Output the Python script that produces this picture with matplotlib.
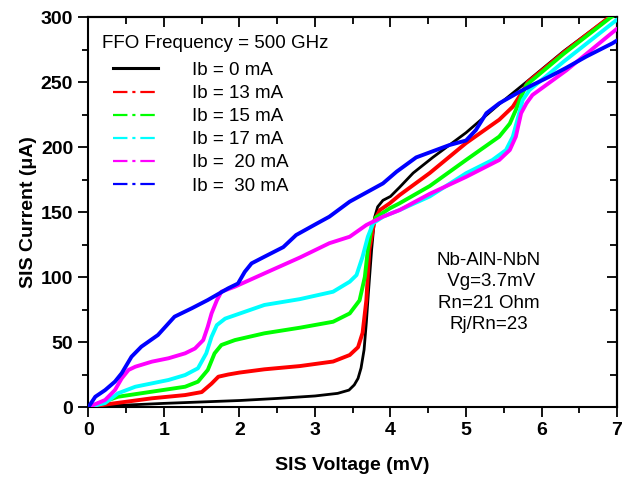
import matplotlib
matplotlib.use("Agg")
import matplotlib.pyplot as plt
from matplotlib.lines import Line2D

plt.rcParams['font.family'] = ['Liberation Sans', 'DejaVu Sans']

# ---- data (SIS voltage in mV, current in uA) ----
v_ib0 = [0, 0.5, 1.0, 1.5, 2.0, 2.5, 3.0, 3.3, 3.45, 3.52, 3.57, 3.61, 3.65, 3.68, 3.71, 3.75, 3.79, 3.83, 3.9, 4.0, 4.12, 4.3, 4.56, 5.0, 5.44, 5.8, 6.3, 6.9, 7.0]
i_ib0 = [0, 1.5, 2.8, 3.9, 5.0, 6.6, 8.5, 10.5, 13, 17, 22, 30, 44, 65, 90, 121, 146, 154, 159, 162, 169, 180, 192, 211, 233, 250, 274, 300, 305]

v_ib13 = [0, 0.3, 0.84, 1.28, 1.5, 1.63, 1.72, 1.85, 2.0, 2.33, 2.8, 3.24, 3.46, 3.57, 3.63, 3.68, 3.72, 3.79, 3.86, 3.99, 4.12, 4.52, 5.0, 5.44, 5.62, 5.73, 5.82, 6.3, 6.9, 7.0]
i_ib13 = [0, 2.5, 6.7, 9.2, 11.5, 18, 23.3, 25, 26.5, 29, 31.5, 35, 40, 46, 57, 82, 121, 144, 151.5, 156.7, 163, 180, 203, 221, 231, 241, 250, 273, 300, 305]

v_ib15 = [0, 0.39, 0.84, 1.28, 1.45, 1.58, 1.67, 1.76, 1.94, 2.33, 2.8, 3.24, 3.46, 3.59, 3.66, 3.70, 3.75, 3.81, 3.99, 4.12, 4.52, 5.0, 5.44, 5.58, 5.66, 5.73, 5.80, 6.3, 6.9, 7.0]
i_ib15 = [0, 7.9, 11.8, 15.6, 19.5, 28.5, 41.3, 47.7, 51.5, 56.7, 61, 65.6, 72, 82, 100, 121, 138.7, 146, 152.8, 156.7, 170, 190, 208, 218, 228.5, 238.7, 247.7, 272, 299, 303]

v_ib17 = [0, 0.22, 0.39, 0.62, 0.84, 1.06, 1.28, 1.45, 1.56, 1.63, 1.70, 1.81, 2.33, 2.8, 3.24, 3.46, 3.55, 3.63, 3.70, 3.77, 3.90, 4.12, 4.52, 5.0, 5.35, 5.53, 5.62, 5.69, 5.75, 5.84, 6.3, 7.0]
i_ib17 = [0, 3, 10.5, 15.6, 18.2, 20.8, 24.6, 29.8, 41.3, 54, 63, 68, 78.5, 83, 88.7, 96.4, 101.5, 115.6, 131, 141.3, 146.4, 151.5, 162, 179.8, 190, 197.7, 208, 223, 236, 243.8, 266, 298]

v_ib20 = [0, 0.22, 0.35, 0.44, 0.53, 0.62, 0.84, 1.06, 1.28, 1.41, 1.52, 1.58, 1.63, 1.70, 1.76, 1.94, 2.33, 2.8, 3.19, 3.46, 3.68, 3.90, 4.12, 4.52, 5.0, 5.44, 5.58, 5.66, 5.73, 5.80, 5.88, 6.33, 7.0]
i_ib20 = [0, 5.4, 13, 22, 28.5, 31, 34.9, 37.5, 41.3, 45, 51.5, 61.8, 72, 82, 88.7, 92.6, 102.8, 115, 126, 131, 140, 146.4, 151.5, 164, 177, 190, 197.7, 208, 226, 233.6, 240, 259, 291]

v_ib30 = [0, 0.09, 0.22, 0.35, 0.44, 0.57, 0.70, 0.92, 1.14, 1.37, 1.58, 1.85, 1.98, 2.07, 2.16, 2.33, 2.58, 2.75, 3.02, 3.19, 3.46, 3.90, 4.08, 4.34, 4.78, 5.0, 5.13, 5.27, 5.44, 5.71, 5.88, 6.10, 6.33, 6.59, 6.94, 7.0]
i_ib30 = [0, 7.9, 13, 19.5, 26, 38.7, 46.4, 55.4, 69.5, 76, 82.3, 91.3, 95, 104, 110.5, 115.6, 123, 132.3, 141, 146.4, 158, 172, 181, 192, 201.5, 205, 213, 226, 233.6, 242.5, 247.7, 254, 261, 269.5, 279.8, 282]

labels = ['Ib = 0 mA', 'Ib = 13 mA', 'Ib = 15 mA', 'Ib = 17 mA', 'Ib =  20 mA', 'Ib =  30 mA']
colors = ['#000000', '#ff0000', '#00ff00', '#00ffff', '#ff00ff', '#0000ff']
series = [(v_ib0, i_ib0), (v_ib13, i_ib13), (v_ib15, i_ib15),
          (v_ib17, i_ib17), (v_ib20, i_ib20), (v_ib30, i_ib30)]

legend_title = 'FFO Frequency = 500 GHz'
info_text = 'Nb-AlN-NbN\n Vg=3.7mV\nRn=21 Ohm\nRj/Rn=23'

x_ticks = [0, 1, 2, 3, 4, 5, 6, 7]
y_ticks = [0, 50, 100, 150, 200, 250, 300]

# ---- figure ----
fig = plt.figure(figsize=(6.24, 4.78), dpi=100)
ax = fig.add_axes([0.1418, 0.1485, 0.8470, 0.8159])

for k, ((v, i), c) in enumerate(zip(series, colors)):
    ax.plot(v, i, color=c, lw=2.0 if k == 0 else 2.8, solid_capstyle='round',
            solid_joinstyle='round', zorder=2 + k)

ax.set_xlim(0, 7)
ax.set_ylim(0, 300)
ax.set_xticks(x_ticks)
ax.set_yticks(y_ticks)
ax.set_xticks([0.5 + t for t in x_ticks[:-1]], minor=True)
ax.set_yticks([25 + t for t in y_ticks[:-1]], minor=True)
ax.tick_params(axis='both', which='major', direction='out', length=7, width=1.3,
               labelsize=14, pad=4)
ax.tick_params(axis='both', which='minor', direction='out', length=4, width=1.3)
for lab in ax.get_xticklabels() + ax.get_yticklabels():
    lab.set_fontweight('bold')

# mirrored axes with inward ticks
secx = ax.secondary_xaxis('top')
secx.set_xticks(x_ticks)
secx.set_xticks([0.5 + t for t in x_ticks[:-1]], minor=True)
secx.tick_params(which='both', direction='in', labeltop=False, width=1.3)
secx.tick_params(which='major', length=7)
secx.tick_params(which='minor', length=5)
secy = ax.secondary_yaxis('right')
secy.set_yticks(y_ticks)
secy.set_yticks([25 + t for t in y_ticks[:-1]], minor=True)
secy.tick_params(which='both', direction='in', labelright=False, width=1.3)
secy.tick_params(which='major', length=7)
secy.tick_params(which='minor', length=5)
for s in ax.spines.values():
    s.set_linewidth(1.5)
for s in list(secx.spines.values()) + list(secy.spines.values()):
    s.set_linewidth(1.5)

ax.set_xlabel('SIS Voltage (mV)', fontsize=14, fontweight='bold')
ax.set_ylabel('SIS Current (\u03bcA)', fontsize=14, fontweight='bold')
ax.xaxis.set_label_coords(0.5, -0.128)
ax.yaxis.set_label_coords(-0.097, 0.5)

# legend
handles = [Line2D([], [], color=colors[0], lw=2.2, ls='-')]
for c in colors[1:]:
    handles.append(Line2D([], [], color=c, lw=1.6, ls=(0, (6.5, 2.2, 1.4, 2.2))))
ax.text(0.0255, 0.933, legend_title, transform=ax.transAxes, fontsize=13.5,
        ha='left', va='center')
ax.legend(handles, labels, loc='upper left', bbox_to_anchor=(0.046, 0.885),
          frameon=False, fontsize=13.5, handlelength=2.4, handletextpad=1.8,
          labelspacing=0.32, borderpad=0, borderaxespad=0)

ax.text(5.3, 88, info_text, fontsize=13.5, ha='center', va='center', linespacing=1.35)

fig.savefig('out.png', dpi=100)
